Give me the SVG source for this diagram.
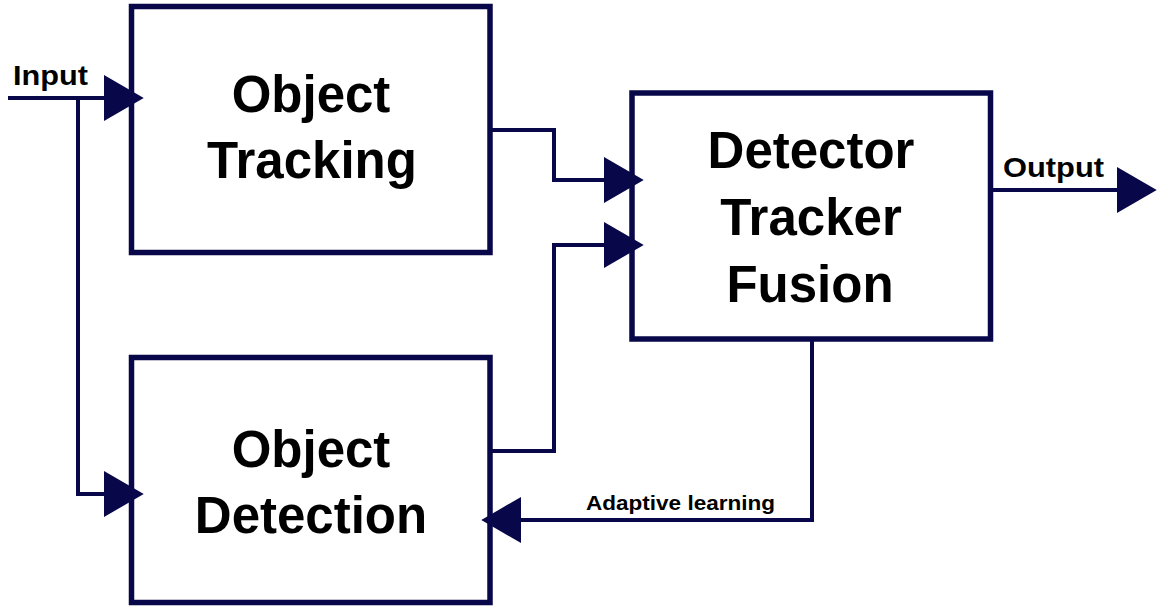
<svg xmlns="http://www.w3.org/2000/svg" width="1158" height="606" viewBox="0 0 1158 606">
  <style>
    .box { fill: #ffffff; stroke: #07074a; stroke-width: 5.5; }
    .wire { fill: none; stroke: #07074a; stroke-width: 4; stroke-linejoin: miter; }
    .big { font-family: "Liberation Sans", Arial, sans-serif; font-weight: bold; font-size: 51px; fill: #000000; text-anchor: middle; }
    .lbl { font-family: "Liberation Sans", Arial, sans-serif; font-weight: bold; fill: #000000; }
  </style>
  <defs>
    <marker id="head" markerUnits="userSpaceOnUse" markerWidth="40" markerHeight="46" viewBox="0 0 38 44" refX="0" refY="22" orient="auto">
      <path d="M0,0 L38,22 L0,44 Z" fill="#07074a"/>
    </marker>
  </defs>
  <rect width="1158" height="606" fill="#ffffff"/>

  <!-- processing blocks -->
  <g id="tracking">
    <rect class="box" x="131.5" y="6.5" width="358.5" height="246"/>
    <text class="big" x="311" y="112">Object</text>
    <text class="big" x="312" y="178">Tracking</text>
  </g>
  <g id="detection">
    <rect class="box" x="131.5" y="357.5" width="358.5" height="245"/>
    <text class="big" x="311" y="467">Object</text>
    <text class="big" x="311" y="533">Detection</text>
  </g>
  <g id="fusion">
    <rect class="box" x="632" y="93" width="358.5" height="246"/>
    <text class="big" x="811" y="168">Detector</text>
    <text class="big" x="811" y="235">Tracker</text>
    <text class="big" x="810" y="302">Fusion</text>
  </g>

  <!-- signal flow -->
  <g id="connectors">
    <path class="wire" d="M8,98 H104" marker-end="url(#head)"/>
    <path class="wire" d="M78,98 V494 H104" marker-end="url(#head)"/>
    <path class="wire" d="M492,130 H554 V180 H604" marker-end="url(#head)"/>
    <path class="wire" d="M492,451 H554 V245 H604" marker-end="url(#head)"/>
    <path class="wire" d="M812,341 V520 H521" marker-end="url(#head)"/>
    <path class="wire" d="M993,190 H1117" marker-end="url(#head)"/>
    <text class="lbl" x="13" y="85" font-size="28" textLength="75" lengthAdjust="spacingAndGlyphs">Input</text>
    <text class="lbl" x="1003" y="177" font-size="27" textLength="101" lengthAdjust="spacingAndGlyphs">Output</text>
    <text class="lbl" x="586" y="510" font-size="21" textLength="189" lengthAdjust="spacingAndGlyphs">Adaptive learning</text>
  </g>
</svg>
